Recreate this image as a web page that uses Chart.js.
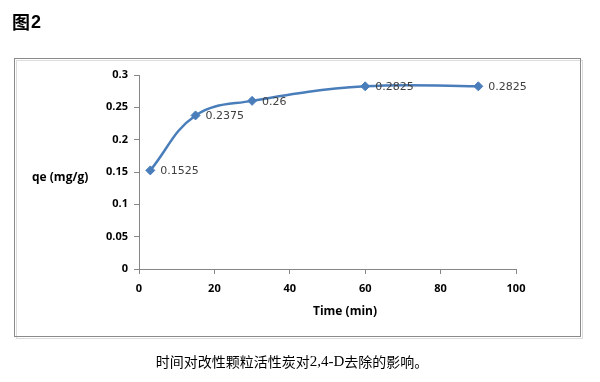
<!DOCTYPE html>
<html>
<head>
<meta charset="utf-8">
<script src="https://cdn.jsdelivr.net/npm/chart.js@4/dist/chart.umd.min.js"></script>
<style>
  html, body { margin: 0; padding: 0; background: #fff; }
  #wrap { position: relative; width: 600px; height: 382px; }
</style>
</head>
<body>
<div id="wrap"><canvas id="chart" width="600" height="382"></canvas></div>
<script>
// data
const times = [3, 15, 30, 60, 90];
const qe = [0.1525, 0.2375, 0.26, 0.2825, 0.2825];
const xTicks = [0, 20, 40, 60, 80, 100];
const yTicks = [0, 0.05, 0.1, 0.15, 0.2, 0.25, 0.3];

const blue = '#4a7ebb';
const axisGray = '#868686';

// frame, figure title, axis titles, caption, point labels
const decorations = {
    id: 'decorations',
    beforeDraw(chart) {
        const c = chart.ctx;
        c.save();
        c.fillStyle = '#fff';
        c.fillRect(0, 0, chart.width, chart.height);
        // chart frame with faint shadow
        c.strokeStyle = '#dcdcdc';
        c.lineWidth = 1;
        c.strokeRect(16.5, 60.5, 566, 278);
        c.strokeStyle = '#8a8a8a';
        c.strokeRect(14.5, 58.5, 566, 278);
        c.restore();
    },
    afterDraw(chart) {
        const c = chart.ctx;
        c.save();
        c.textBaseline = 'middle';
        // figure number
        c.fillStyle = '#000';
        c.textAlign = 'left';
        c.font = 'bold 18px "Noto Sans CJK SC"';
        c.fillText('图', 12, 22);
        c.font = 'bold 18px "Liberation Sans"';
        c.fillText('2', 31, 23);

        // axis titles
        c.font = 'bold 12px "Open Sans"';
        c.fillStyle = '#000';
        c.fillText('qe (mg/g)', 32, 178);
        c.textAlign = 'center';
        c.fillText('Time (min)', 345, 312);

        // point labels
        c.font = '11px "DejaVu Sans"';
        c.fillStyle = '#404040';
        c.textAlign = 'left';
        const meta = chart.getDatasetMeta(0);
        meta.data.forEach((pt, i) => {
            c.fillText(String(qe[i]), pt.x + 10, pt.y + 1);
        });

        // caption
        const parts = [
            ['时间对改性颗粒活性炭对', '14px "Noto Sans CJK SC"'],
            ['2,4-D', '15px "Liberation Serif"'],
            ['去除的影响。', '14px "Noto Sans CJK SC"']
        ];
        let total = 0;
        parts.forEach(p => { c.font = p[1]; total += c.measureText(p[0]).width; });
        let x = 292 - total / 2;
        c.fillStyle = '#000';
        parts.forEach(p => {
            c.font = p[1];
            c.fillText(p[0], x, 362);
            x += c.measureText(p[0]).width;
        });
        c.restore();
    }
};

new Chart(document.getElementById('chart'), {
    type: 'scatter',
    data: {
        datasets: [{
            data: times.map((t, i) => ({ x: t, y: qe[i] })),
            showLine: true,
            borderColor: blue,
            backgroundColor: blue,
            borderWidth: 2.5,
            tension: 0.4,
            pointStyle: 'rectRot',
            pointRadius: 4.5,
            pointBorderWidth: 1,
            pointBackgroundColor: blue,
            pointBorderColor: blue
        }]
    },
    plugins: [decorations],
    options: {
        responsive: false,
        animation: false,
        layout: { padding: { top: 75, right: 84, left: 0, bottom: 0 } },
        plugins: {
            legend: { display: false },
            tooltip: { enabled: false }
        },
        scales: {
            x: {
                type: 'linear',
                min: 0,
                max: 100,
                afterFit(scale) { scale.height = 113; },
                afterBuildTicks(scale) { scale.ticks = xTicks.map(v => ({ value: v })); },
                border: { color: axisGray, width: 1 },
                grid: { drawOnChartArea: false, tickLength: 5, color: axisGray },
                ticks: {
                    padding: 8,
                    color: '#000',
                    font: { family: 'Open Sans', weight: 'bold', size: 11 },
                    maxRotation: 0
                }
            },
            y: {
                min: 0,
                max: 0.3,
                afterFit(scale) { scale.width = 139; },
                afterBuildTicks(scale) { scale.ticks = yTicks.map(v => ({ value: v })); },
                border: { color: axisGray, width: 1 },
                grid: { drawOnChartArea: false, tickLength: 5, color: axisGray },
                ticks: {
                    padding: 6,
                    color: '#000',
                    font: { family: 'Open Sans', weight: 'bold', size: 11 },
                    callback: v => String(v)
                }
            }
        }
    }
});
</script>
</body>
</html>
